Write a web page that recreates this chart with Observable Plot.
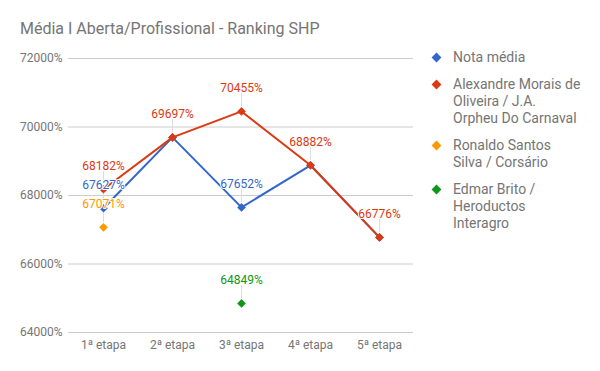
<!DOCTYPE html>
<html><head><meta charset="utf-8">
<script src="https://cdn.jsdelivr.net/npm/d3@7"></script>
<script src="https://cdn.jsdelivr.net/npm/@observablehq/plot@0.6"></script>
<style>
body{margin:0;background:#fff;font-family:Roboto,sans-serif;}
#wrap{position:relative;width:600px;height:371px;overflow:hidden;}
#title{position:absolute;left:20px;top:19px;font-size:16px;color:#757575;white-space:nowrap;}
.leg{position:absolute;left:431px;font-size:14px;color:#757575;line-height:17px;}
.leg .sw{position:absolute;left:2px;top:5px;width:7px;height:7px;transform:rotate(45deg);}
.leg .tx{position:absolute;left:22px;top:0;white-space:nowrap;}
</style></head><body>
<div id="wrap"><div id="chart"></div><div id="title">Média I Aberta/Profissional - Ranking SHP</div><div id="legend"></div></div>
<script>
const etapas = ["1ª etapa", "2ª etapa", "3ª etapa", "4ª etapa", "5ª etapa"];
const seriesNames = ["Nota média", "Alexandre Morais de Oliveira / J.A. Orpheu Do Carnaval", "Ronaldo Santos Silva / Corsário", "Edmar Brito / Heroductos Interagro"];
const legendLines = [["Nota média"], ["Alexandre Morais de", "Oliveira / J.A.", "Orpheu Do Carnaval"], ["Ronaldo Santos", "Silva / Corsário"], ["Edmar Brito /", "Heroductos", "Interagro"]];
const seriesColors = ["#3366cc", "#dc3912", "#ff9900", "#109618"];
const notaMedia = [67627, 69697, 67652, 68882, 66776];
const alexandre = [68182, 69697, 70455, 68882, 66776];
const ronaldo = [67071, null, null, null, null];
const edmar = [null, null, 64849, null, null];
const yTicks = [64000, 66000, 68000, 70000, 72000];

const allValues = [notaMedia, alexandre, ronaldo, edmar];
const rows = [];
allValues.forEach((vals, si) => vals.forEach((v, i) => {
  if (v != null) {
    // hide label if a later-drawn series has the same value at this stage
    const hidden = allValues.slice(si + 1).some(o => o[i] === v);
    rows.push({etapa: etapas[i], value: v, serie: seriesNames[si], label: !hidden});
  }
}));
const lineRows = rows.filter(d => d.serie === seriesNames[0] || d.serie === seriesNames[1]);
const labelRows = rows.filter(d => d.label);

const chart = Plot.plot({
  width: 600, height: 371,
  marginLeft: 68, marginRight: 187, marginTop: 58, marginBottom: 39,
  style: {fontFamily: "Roboto, sans-serif", fontSize: "12px", color: "#757575", background: "transparent", overflow: "visible"},
  x: {type: "point", domain: etapas, padding: 0.5, label: null, tickSize: 0, tickPadding: 8},
  y: {domain: [64000, 72000], ticks: yTicks, tickFormat: d => d + "%", label: null, tickSize: 0, tickPadding: 6},
  color: {domain: seriesNames, range: seriesColors},
  marks: [
    Plot.ruleY(yTicks, {stroke: "#cccccc", strokeWidth: 1}),
    Plot.line(lineRows, {x: "etapa", y: "value", z: "serie", stroke: "serie", strokeWidth: 2}),
    Plot.ruleX(labelRows, {x: "etapa", y1: "value", y2: "value", stroke: "#dddddd", strokeWidth: 1, dy: -5, insetBottom: 13}),
    Plot.dot(rows, {x: "etapa", y: "value", fill: "serie", symbol: "diamond2", r: 3.9}),
    Plot.text(labelRows, {x: "etapa", y: "value", text: d => d.value + "%", fill: "serie", dy: -23, fontSize: 12, stroke: "white", strokeWidth: 2})
  ]
});
document.getElementById("chart").appendChild(chart);

const legend = document.getElementById("legend");
const legendTops = [49, 76, 137, 181];
legendLines.forEach((lines, i) => {
  const item = document.createElement("div");
  item.className = "leg";
  item.style.top = legendTops[i] + "px";
  const sw = document.createElement("div");
  sw.className = "sw";
  sw.style.background = seriesColors[i];
  const tx = document.createElement("div");
  tx.className = "tx";
  tx.innerHTML = lines.join("<br>");
  item.appendChild(sw); item.appendChild(tx);
  legend.appendChild(item);
});
</script>
</body></html>
